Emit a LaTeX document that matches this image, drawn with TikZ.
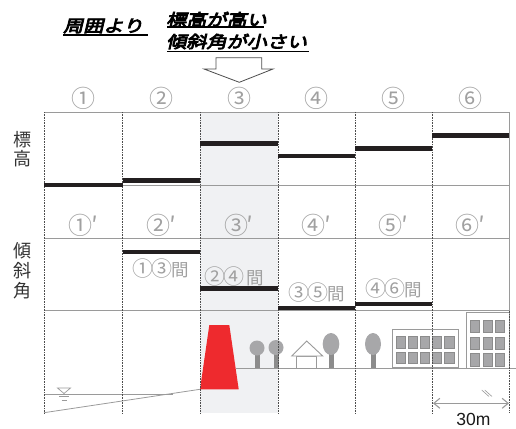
\documentclass[tikz,border=0pt]{standalone}
\usepackage{fontspec}
\newfontfamily\jp{Noto Sans CJK JP}
\newfontfamily\jphead[FakeSlant=0.24,FakeBold=5,FakeStretch=1.22]{Noto Sans CJK JP}
\newfontfamily\scalefont{Liberation Sans}
\usetikzlibrary{arrows.meta}

\definecolor{gridline}{HTML}{9A9A9A}
\definecolor{divline}{HTML}{4D4D4D}
\definecolor{shadecol}{HTML}{F0F1F3}
\definecolor{barblack}{HTML}{231F20}
\definecolor{labelgray}{HTML}{A0A0A0}
\definecolor{crowngray}{HTML}{A7A7A9}
\definecolor{trunkgray}{HTML}{8C8C8C}
\definecolor{damred}{HTML}{EE2A2E}
\definecolor{textdark}{HTML}{333333}

% circled digit set larger than the surrounding kanji
\newcommand\circd[1]{{\fontsize{21}{21}\selectfont #1}}

\tikzset{
  colnum/.style={font=\jp\fontsize{24}{24}\selectfont, text=labelgray, inner sep=0pt},
  gaplabel/.style={font=\jp\fontsize{17.5}{17.5}\selectfont, text=labelgray, inner sep=0pt},
  axislabel/.style={text=textdark, inner sep=0pt, align=center},
  headtext/.style={font=\jphead\fontsize{16.5}{16.5}\selectfont, text=black, inner sep=0pt, anchor=west},
  headline/.style={black, line width=1.3pt},
  levelbar/.style={barblack, line width=4.5pt},
  divider/.style={divline, densely dotted, line width=0.6pt},
  boxline/.style={gridline, line width=0.9pt},
  crown/.style={fill=crowngray, draw=none},
  trunk/.style={fill=trunkgray, draw=none},
  building/.style={draw=gridline, fill=white, line width=0.9pt},
  window/.style={fill=crowngray, draw=trunkgray, line width=0.4pt},
  thinline/.style={gridline, line width=0.8pt},
}

\begin{document}
\begin{tikzpicture}[x=1pt,y=-1pt]
\useasboundingbox (0,0) rectangle (516,428);

% heading
\node[headtext] (hsurround) at (63,26) {周囲より};
\node[headtext] (helev) at (166,19.5) {標高が高い};
\node[headtext] (hslope) at (166,41.5) {傾斜角が小さい};
\draw[headline] (63,35) -- (148,35);
\draw[headline] (167,27) -- (264,27);
\draw[headline] (167,51.5) -- (309,51.5);

% hollow arrow pointing at column 3
\draw[divline, line width=0.8pt, fill=white]
  (216,57.7) -- (261.7,57.7) -- (261.7,69) -- (273,69) -- (239.3,82.3)
  -- (204,69) -- (216,69) -- cycle;

% highlighted column 3
\fill[shadecol] (200,112) rectangle (278,413);

% chart frame
\foreach \yy in {112,185,238,310.7}
  \draw[boxline] (44,\yy) -- (509,\yy);
\draw[boxline] (509,112) -- (509,310.7);

% axis labels
\node[axislabel, font=\jp\fontsize{18}{19}\selectfont] (elevlabel) at (22.5,149.5) {標\\高};
\node[axislabel, font=\jp\fontsize{18}{20}\selectfont] (slopelabel) at (22.5,271) {傾\\斜\\角};

% column numbers
\node[colnum] (c1) at (83.2,98) {①};
\node[colnum] (c2) at (161.2,98) {②};
\node[colnum] (c3) at (239,98) {③};
\node[colnum] (c4) at (316.5,98) {④};
\node[colnum] (c5) at (393.5,98) {⑤};
\node[colnum] (c6) at (470.5,98) {⑥};

\node[colnum] (p1) at (83.2,225) {①\kern-1.5pt′};
\node[colnum] (p2) at (161.2,225) {②\kern-1.5pt′};
\node[colnum] (p3) at (239,225) {③\kern-1.5pt′};
\node[colnum] (p4) at (316.5,225) {④\kern-1.5pt′};
\node[colnum] (p5) at (393.5,225) {⑤\kern-1.5pt′};
\node[colnum] (p6) at (470.5,225) {⑥\kern-1.5pt′};

% slope interval labels
\node[gaplabel] (g13) at (160.5,268.5) {\circd{①}\kern-2pt\circd{③}\kern-1pt 間};
\node[gaplabel] (g24) at (234,276.5) {\circd{②}\kern-2pt\circd{④}\kern2pt 間};
\node[gaplabel] (g35) at (317,292.5) {\circd{③}\kern-2pt\circd{⑤}\kern-1pt 間};
\node[gaplabel] (g46) at (393.5,288.5) {\circd{④}\kern-2pt\circd{⑥}\kern-1pt 間};

% river, water level and levee
\draw[thinline] (44,394.3) -- (173,394.3);
\draw[thinline] (44,412.7) -- (200,389.3);
\draw[gridline, line width=0.7pt] (57.5,388) -- (70.5,388) -- (64,393.5) -- cycle;
\draw[gridline, line width=0.7pt] (59.3,396.7) -- (68.7,396.7);
\draw[gridline, line width=0.7pt] (61.7,400) -- (66.7,400);
\fill[damred] (200,389.3) -- (209.3,325) -- (229.3,325) -- (238.7,389.3) -- cycle;

% ground
\draw[thinline] (235.6,368) -- (516,368);

% trees
\fill[trunk] (254.5,353) rectangle (259.5,368);
\fill[crown] (257,348) circle (7.5);
\fill[trunk] (273.5,353) rectangle (278.5,368);
\fill[crown] (276,347.5) circle (7.5);
\fill[trunk] (328.5,354) rectangle (333.5,368);
\fill[crown] (331,344) ellipse (8.3 and 11);
\fill[trunk] (370.5,354) rectangle (375.5,368);
\fill[crown] (373,344) ellipse (8 and 11);

% house
\draw[building] (296.7,356) rectangle (316.7,368);
\draw[building, line join=miter] (291.7,356) -- (306.7,341) -- (322.7,356) -- cycle;

% low building
\draw[building] (392.5,329.3) rectangle (458.3,367);
\foreach \i in {0,...,4}
  \foreach \yy in {336,351.7}
    \draw[window] (396+\i*12.1,\yy) rectangle ++(9.3,11.8);

% tall building
\draw[building] (466.5,312.3) rectangle (509.5,368.3);
\foreach \i in {0,1,2}
  \foreach \j in {0,1,2}
    \draw[window] (470.3+\i*12.4,320+\j*16.7) rectangle ++(9.3,12.3);

% column dividers
\foreach \xx in {44,122.5,200,278,355,432}
  \draw[divider] (\xx,112) -- (\xx,413);
\draw[divider] (509,310.7) -- (509,413);

% elevation levels
\draw[levelbar] (44,185) -- (122.5,185);
\draw[levelbar] (122.5,180.3) -- (200,180.3);
\draw[levelbar] (200,143.3) -- (278,143.3);
\draw[levelbar] (278,156) -- (355,156);
\draw[levelbar] (355,148.3) -- (432,148.3);
\draw[levelbar] (432,135.3) -- (509,135.3);

% slope levels
\draw[levelbar] (122.5,252.2) -- (200,252.2);
\draw[levelbar] (200,288.3) -- (278,288.3);
\draw[levelbar] (278,308) -- (355,308);
\draw[levelbar] (355,304) -- (432,304);

% scale bar
\coordinate (sL) at (433,403.3);
\coordinate (sR) at (509,403.3);
\draw[gridline, line width=1.1pt, {Straight Barb[length=6pt,width=10pt]}-{Straight Barb[length=6pt,width=10pt]}] (sL) -- (sR);
\node[font=\scalefont\fontsize{17.5}{17.5}\selectfont, text=black!90, inner sep=0pt] (scalelabel) at (473.5,419) {30m};
\draw[gridline, line width=0.6pt] (481.7,390) -- (489,396.5);
\draw[gridline, line width=0.6pt] (484.7,390) -- (492,396.5);
\end{tikzpicture}
\end{document}
